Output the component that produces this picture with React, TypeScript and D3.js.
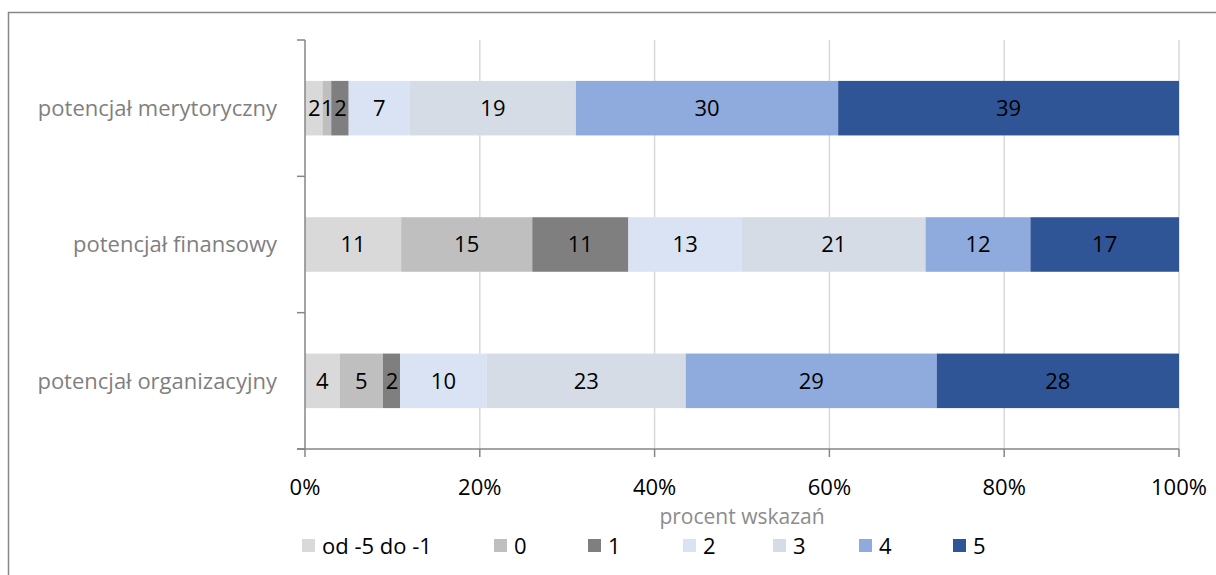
import React from "react";
import * as d3 from "d3";

const categories = ["potencjał merytoryczny", "potencjał finansowy", "potencjał organizacyjny"];
const seriesNames = ["od -5 do -1", "0", "1", "2", "3", "4", "5"];
const seriesColors = ["#d9d9d9", "#bfbfbf", "#7f7f7f", "#dae3f3", "#d6dce5", "#8faadc", "#2f5597"];
const values: number[][] = [
  [2, 1, 2, 7, 19, 30, 39],
  [11, 15, 11, 13, 21, 12, 17],
  [4, 5, 2, 10, 23, 29, 28],
];
const xTicks = [0, 0.2, 0.4, 0.6, 0.8, 1];
const axisTitle = "procent wskazań";
const legendX = [302, 494, 588, 683, 773, 859, 953];

const FONT = "'Open Sans', sans-serif";

export default function App() {
  const W = 1216, H = 575;
  const left = 305, right = 1179, top = 40, bottom = 449;
  const x = d3.scaleLinear().domain([0, 1]).range([left, right]);
  const y = d3.scaleBand<string>().domain(categories).range([top, bottom]).paddingInner(0.6).paddingOuter(0.3);
  const band = d3.scaleBand<string>().domain(categories).range([top, bottom]);

  const rows = values.map((vals, i) => {
    const total = d3.sum(vals);
    let acc = 0;
    return vals.map((v, j) => {
      const s = acc / total;
      acc += v;
      return { cat: categories[i], v, j, x0: s, x1: acc / total };
    });
  });

  return (
    <svg width={W} height={H} style={{ position: "absolute", left: 0, top: 0, background: "#fff" }} fontFamily={FONT}>
      <rect x={8.5} y={12.5} width={1260} height={700} fill="#fff" stroke="#878787" strokeWidth={1.5} />
      {xTicks.slice(1).map((t) => (
        <line key={t} x1={x(t)} x2={x(t)} y1={top} y2={bottom} stroke="#d9d9d9" strokeWidth={1.5} />
      ))}
      {rows.map((r) =>
        r.map((s) => (
          <g key={s.cat + s.j}>
            <rect x={x(s.x0)} y={y(s.cat)!} width={x(s.x1) - x(s.x0)} height={y.bandwidth()} fill={seriesColors[s.j]} />
            <text
              x={(x(s.x0) + x(s.x1)) / 2}
              y={y(s.cat)! + y.bandwidth() / 2}
              dy="0.36em"
              textAnchor="middle"
              fontSize={22}
              letterSpacing={s.v < 10 && x(s.x1) - x(s.x0) < 20 ? -1 : 0}
              fill="#000"
            >
              {s.v}
            </text>
          </g>
        ))
      )}
      {/* y axis */}
      <line x1={left} x2={left} y1={top} y2={bottom} stroke="#868686" strokeWidth={1.5} />
      {[...categories.map((c) => band(c)!), bottom].map((t, i) => (
        <line key={i} x1={left - 8} x2={left} y1={t} y2={t} stroke="#868686" strokeWidth={1.5} />
      ))}
      {/* x axis */}
      <line x1={left - 8} x2={right} y1={bottom} y2={bottom} stroke="#868686" strokeWidth={1.5} />
      {xTicks.map((t) => (
        <g key={t}>
          <line x1={x(t)} x2={x(t)} y1={bottom} y2={bottom + 8} stroke="#868686" strokeWidth={1.5} />
          <text x={x(t)} y={bottom + 38} textAnchor="middle" fontSize={22} fill="#000" dy="0.36em">
            {d3.format(".0%")(t)}
          </text>
        </g>
      ))}
      {categories.map((c) => (
        <text key={c} x={277} y={band(c)! + band.bandwidth() / 2} textAnchor="end" dy="0.36em" fontSize={22} fill="#7f7f7f">
          {c}
        </text>
      ))}
      <text x={(left + right) / 2} y={516} textAnchor="middle" dy="0.36em" fontSize={21} fill="#8c8c8c">
        {axisTitle}
      </text>
      {seriesNames.map((n, i) => (
        <g key={n}>
          <rect x={legendX[i]} y={539} width={13} height={13} fill={seriesColors[i]} />
          <text x={legendX[i] + 20} y={546} dy="0.36em" fontSize={22} fill="#000">
            {n}
          </text>
        </g>
      ))}
    </svg>
  );
}
